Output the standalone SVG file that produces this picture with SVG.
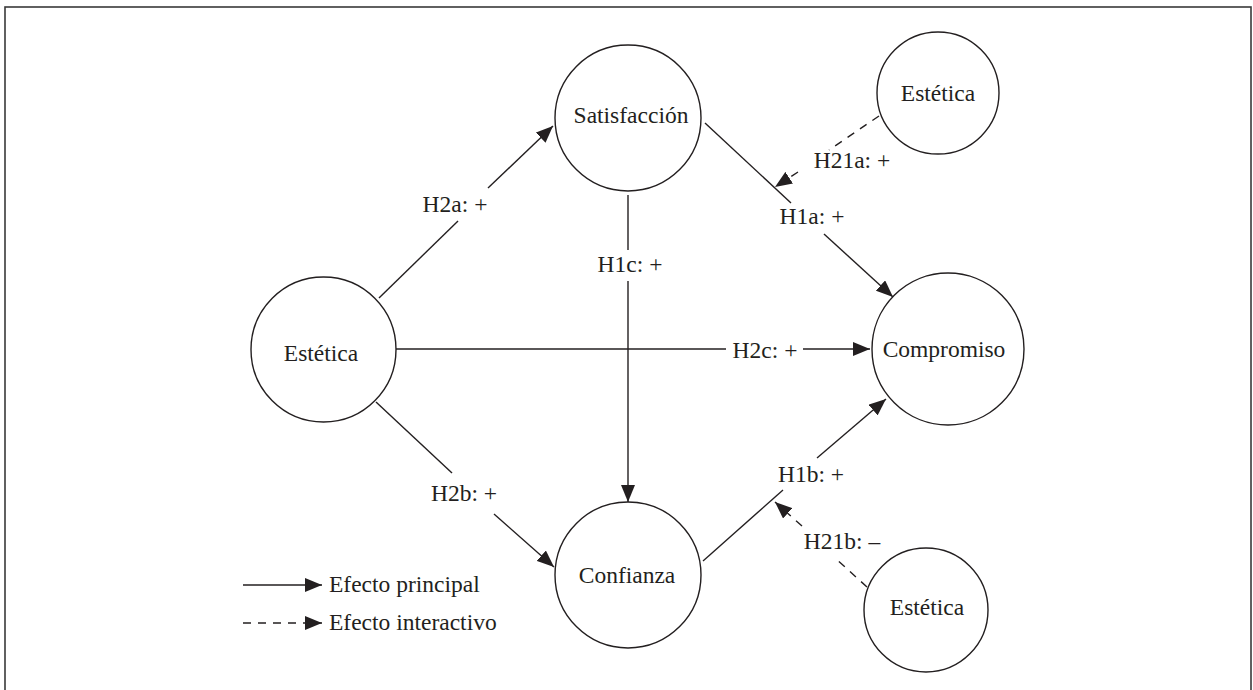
<svg xmlns="http://www.w3.org/2000/svg" width="1253" height="690" viewBox="0 0 1253 690">
<style>
.n{fill:#fff;stroke:#231f20;stroke-width:1.4}
.t{font-family:"Liberation Serif","Times New Roman",serif;font-size:23.5px;fill:#231f20;text-anchor:middle}
.l{font-family:"Liberation Serif","Times New Roman",serif;font-size:23.5px;fill:#231f20}
.c{fill:none;stroke:#231f20;stroke-width:1.4}
.d{fill:none;stroke:#231f20;stroke-width:1.4;stroke-dasharray:8 7}
</style>
<defs>
<marker id="a" markerUnits="userSpaceOnUse" markerWidth="18" markerHeight="14" refX="17" refY="7" orient="auto">
<path d="M0,0 L17,7 L0,14 Z" fill="#231f20"/>
</marker>
</defs>
<rect x="5" y="7" width="1246" height="700" fill="#fff" stroke="#3a3a3a" stroke-width="1.6"/>
<g id="connectors">
<line class="c" x1="379" y1="298" x2="458" y2="221"/>
<line class="c" x1="488" y1="188" x2="553" y2="126" marker-end="url(#a)"/>
<line class="c" x1="705" y1="123" x2="791" y2="203"/>
<line class="c" x1="824" y1="234" x2="893" y2="297" marker-end="url(#a)"/>
<line class="d" x1="879" y1="116" x2="829" y2="150"/>
<line class="d" x1="798" y1="172" x2="775" y2="187" marker-end="url(#a)"/>
<line class="c" x1="628" y1="195" x2="628" y2="250"/>
<line class="c" x1="628" y1="281" x2="628" y2="502" marker-end="url(#a)"/>
<line class="c" x1="396" y1="349" x2="726" y2="349"/>
<line class="c" x1="803" y1="349" x2="870" y2="349" marker-end="url(#a)"/>
<line class="c" x1="376" y1="402" x2="452" y2="473"/>
<line class="c" x1="494" y1="514" x2="554" y2="567" marker-end="url(#a)"/>
<line class="c" x1="703" y1="561" x2="783" y2="490"/>
<line class="c" x1="817" y1="458" x2="886" y2="399" marker-end="url(#a)"/>
<line class="d" x1="867" y1="587" x2="834" y2="557"/>
<line class="d" x1="802" y1="526" x2="775" y2="502" marker-end="url(#a)"/>
</g>
<g id="labels">
<text class="t" x="455" y="212">H2a: +</text>
<text class="t" x="812" y="224">H1a: +</text>
<text class="t" x="852" y="168">H21a: +</text>
<text class="t" x="630" y="272">H1c: +</text>
<text class="t" x="765" y="358">H2c: +</text>
<text class="t" x="464" y="501">H2b: +</text>
<text class="t" x="811" y="482">H1b: +</text>
<text class="t" x="842" y="549">H21b: –</text>
</g>
<g id="satisfaccion"><circle class="n" cx="628" cy="118" r="73"/><text class="t" x="631" y="123">Satisfacción</text></g>
<g id="estetica-top"><circle class="n" cx="938" cy="93" r="61"/><text class="t" x="938" y="101">Estética</text></g>
<g id="estetica-left"><circle class="n" cx="323.5" cy="349.5" r="72.5"/><text class="t" x="321" y="361">Estética</text></g>
<g id="compromiso"><circle class="n" cx="948" cy="349" r="76"/><text class="t" x="944" y="357">Compromiso</text></g>
<g id="confianza"><circle class="n" cx="628" cy="575" r="73"/><text class="t" x="627" y="583">Confianza</text></g>
<g id="estetica-bottom"><circle class="n" cx="926" cy="610" r="62"/><text class="t" x="927" y="615">Estética</text></g>
<g id="legend">
<line class="c" x1="243" y1="585" x2="322" y2="585" marker-end="url(#a)"/>
<text class="l" x="329" y="592">Efecto principal</text>
<line class="d" x1="243" y1="623" x2="322" y2="623" marker-end="url(#a)"/>
<text class="l" x="329" y="630">Efecto interactivo</text>
</g>
</svg>
